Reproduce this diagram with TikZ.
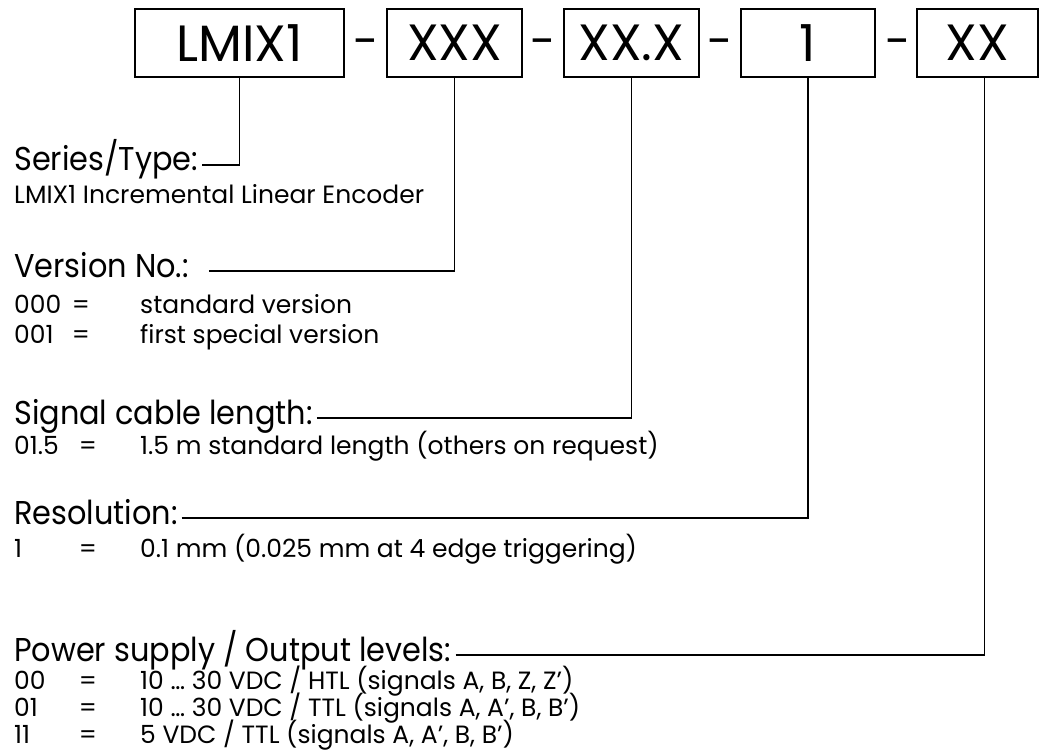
\documentclass[tikz,border=0pt]{standalone}
\usepackage{fontspec}
\setmainfont{Poppins}
\newfontfamily\headfont{Poppins}[FakeStretch=0.92]
\usetikzlibrary{calc}
\begin{document}
\begin{tikzpicture}[x=1pt,y=-1pt,
  codebox/.style={draw, line width=1.8pt, minimum height=68pt, inner sep=0pt,
    font=\fontsize{51}{51}\selectfont},
  sepdash/.style={anchor=base, inner sep=0pt, font=\fontsize{46}{46}\selectfont},
  heading/.style={anchor=base west, inner sep=0pt, font=\headfont\fontsize{33}{33}\selectfont},
  body/.style={anchor=base west, inner sep=0pt, font=\fontsize{25}{25}\selectfont},
  eqsign/.style={anchor=base, inner sep=0pt, font=\fontsize{25}{25}\selectfont},
  conn/.style={line width=1.8pt}]
\useasboundingbox (0,0) rectangle (1040,754);

% code boxes
\node[codebox, minimum width=209pt] (b1) at (239.5,43) {LMIX1};
\node[codebox, minimum width=135pt] (b2) at (454.5,43) {XXX};
\node[codebox, minimum width=135pt] (b3) at (631.5,43) {XX.X};
\node[codebox, minimum width=134pt] (b4) at (808,43) {1};
\node[codebox, minimum width=121pt] (b5) at (977.5,43) {XX};
\node[sepdash] (d1) at (366,58) {-};
\node[sepdash] (d2) at (543,58) {-};
\node[sepdash] (d3) at (720,58) {-};
\node[sepdash] (d4) at (898,58) {-};

% headings and descriptions
\node[heading] (hSeries) at (14,171) {Series/Type:};
\node[body] (tSeries) at (14,203) {LMIX1 Incremental Linear Encoder};

\node[heading] (hVersion) at (14,277) {Version No.:};
\node[body] (k000) at (14,313) {000};
\node[eqsign] (e000) at (81,313) {=};
\node[body] (v000) at (140,313) {standard version};
\node[body] (k001) at (14,343) {001};
\node[eqsign] (e001) at (81,343) {=};
\node[body] (v001) at (140,343) {first special version};

\node[heading] (hSignal) at (14,424) {Signal cable length:};
\node[body] (k015) at (14,454) {01.5};
\node[eqsign] (e015) at (88,454) {=};
\node[body] (v015) at (140,454) {1.5 m standard length (others on request)};

\node[heading] (hRes) at (14,524) {Resolution:};
\node[body] (k1) at (14,557) {1};
\node[eqsign] (e1) at (88,557) {=};
\node[body] (v1) at (140,557) {0.1 mm (0.025 mm at 4 edge triggering)};

\node[heading] (hPower) at (14,661) {Power supply / Output levels:};
\node[body] (k00) at (14,689) {00};
\node[eqsign] (e00) at (88,689) {=};
\node[body] (v00) at (140,689) {10 … 30 VDC / HTL (signals A, B, Z, Z’)};
\node[body] (k01) at (14,716) {01};
\node[eqsign] (e01) at (88,716) {=};
\node[body] (v01) at (140,716) {10 … 30 VDC / TTL (signals A, A’, B, B’)};
\node[body] (k11) at (14,743) {11};
\node[eqsign] (e11) at (88,743) {=};
\node[body] (v11) at (140,743) {5 VDC / TTL (signals A, A’, B, B’)};

% connectors
\coordinate (s5) at ($(b5.south)+(7,0)$);
\draw[conn] ($(hSeries.base east)+(4,-6)$) -| (b1.south);
\draw[conn] ($(hVersion.base east)+(20,-6)$) -| (b2.south);
\draw[conn] ($(hSignal.base east)+(4,-6)$) -| (b3.south);
\draw[conn] ($(hRes.base east)+(4,-6)$) -| (b4.south);
\draw[conn] ($(hPower.base east)+(4,-6)$) -| (s5);
\end{tikzpicture}
\end{document}
